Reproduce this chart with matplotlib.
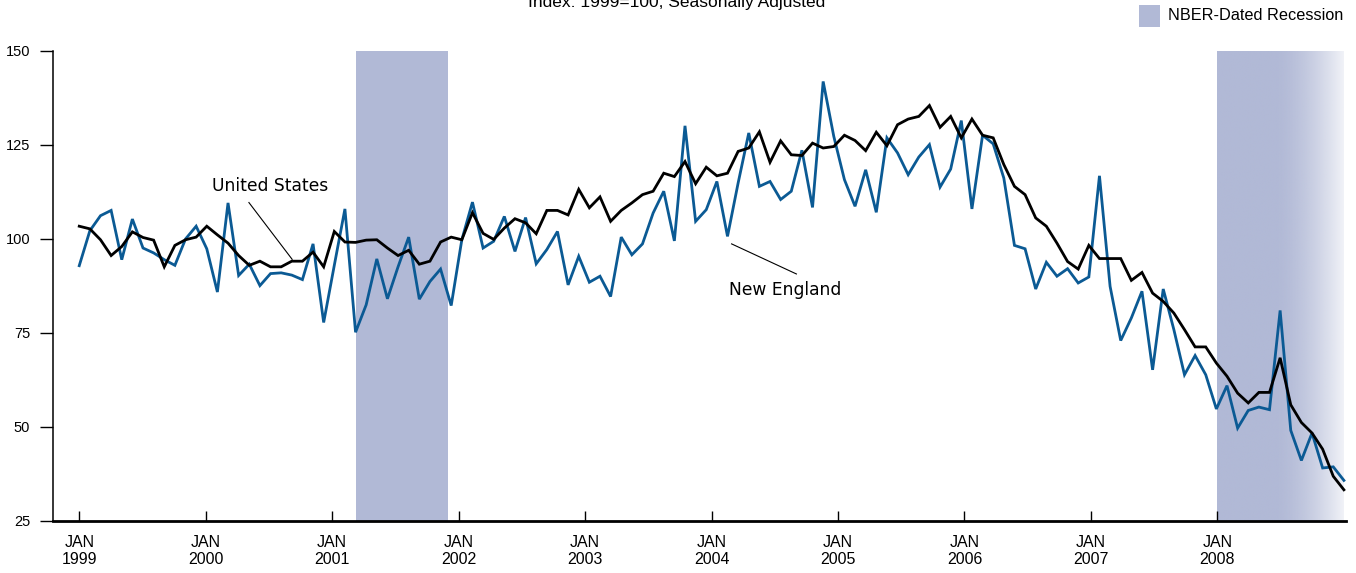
import numpy as np
import matplotlib
matplotlib.use("Agg")
import matplotlib.pyplot as plt

# monthly index, Jan 1999 .. Dec 2008 (1999 = 100, seasonally adjusted)
us = [103.4, 102.7, 99.8, 95.6, 98.0, 101.9, 100.4, 99.7, 92.6, 98.3,
      99.8, 100.5, 103.4, 101.1, 98.9, 95.6, 93.0, 94.1, 92.6, 92.6,
      94.1, 94.1, 96.5, 92.6, 102.0, 99.2, 99.1, 99.7, 99.8, 97.6,
      95.6, 97.0, 93.3, 94.1, 99.2, 100.5, 99.8, 107.0, 101.5, 99.9,
      102.9, 105.4, 104.3, 101.4, 107.6, 107.6, 106.4, 113.2, 108.3, 111.2,
      104.7, 107.6, 109.6, 111.8, 112.7, 117.5, 116.6, 120.6, 114.7, 119.1,
      116.8, 117.5, 123.3, 124.2, 128.5, 120.4, 126.1, 122.4, 122.2, 125.5,
      124.2, 124.6, 127.6, 126.2, 123.5, 128.4, 124.8, 130.4, 131.9, 132.6,
      135.5, 129.7, 132.6, 126.9, 131.9, 127.6, 126.9, 119.8, 114.0, 111.8,
      105.6, 103.4, 98.9, 94.0, 92.0, 98.3, 94.8, 94.8, 94.8, 89.0,
      91.1, 85.6, 83.4, 80.3, 75.9, 71.3, 71.3, 67.0, 63.5, 59.0,
      56.4, 59.2, 59.2, 68.4, 55.9, 51.2, 48.4, 44.1, 36.9, 33.3]

new_england = [92.9, 102.2, 106.2, 107.6, 94.5, 105.3, 97.6, 96.3, 94.5, 93.0,
               100.0, 103.4, 97.4, 85.9, 109.6, 90.3, 93.3, 87.6, 90.8, 91.0,
               90.4, 89.2, 98.7, 77.8, 93.0, 108.0, 75.2, 82.5, 94.7, 84.1,
               92.6, 100.5, 84.0, 88.7, 92.0, 82.3, 99.8, 109.8, 97.6, 99.4,
               106.0, 96.7, 105.7, 93.4, 97.2, 102.0, 87.8, 95.4, 88.5, 90.1,
               84.7, 100.5, 95.8, 98.7, 106.9, 112.7, 99.5, 130.1, 104.7, 107.8,
               115.3, 100.7, 114.9, 128.2, 114.0, 115.3, 110.5, 112.7, 123.6, 108.4,
               141.9, 127.3, 115.8, 108.7, 118.4, 107.1, 126.9, 122.9, 117.1, 121.8,
               125.1, 113.8, 118.6, 131.5, 108.0, 127.6, 125.3, 116.2, 98.3, 97.4,
               86.7, 93.8, 90.1, 92.1, 88.3, 89.9, 116.8, 87.4, 73.0, 79.0,
               86.1, 65.2, 86.7, 75.9, 63.9, 69.0, 63.9, 54.8, 61.0, 49.7,
               54.4, 55.3, 54.6, 81.0, 49.1, 41.1, 48.4, 39.1, 39.4, 35.8]

years = list(range(1999, 2009))
y_ticks = [25, 50, 75, 100, 125, 150]

# recessions in months since Jan 1999
recession_2001 = (26.25, 35.0)
recession_2008 = (108.0, 120.0)

BLUE = "#0b5a94"
SHADE = (177 / 255, 185 / 255, 214 / 255)

fig = plt.figure(figsize=(13.56, 5.73), dpi=100)
ax = fig.add_axes([53 / 1356, 1 - 521 / 573, (1346 - 53) / 1356, (521 - 51) / 573])

# the source spreads 120 months over 10 year-widths
x = np.linspace(0, 120, len(us))

ax.axvspan(*recession_2001, color=SHADE, lw=0, zorder=0)

# second recession fades out toward the right edge
grad_x = np.linspace(recession_2008[0], recession_2008[1], 300)
t = np.clip((grad_x - 113.5) / 6.5, 0, 1)
alpha = 1 - 0.82 * t ** 1.6
img = np.zeros((2, len(grad_x), 4))
img[..., 0], img[..., 1], img[..., 2] = SHADE
img[..., 3] = alpha
ax.imshow(img, extent=(recession_2008[0], recession_2008[1], 25, 150),
          aspect="auto", zorder=0, interpolation="bilinear")

ax.plot(x, new_england, color=BLUE, lw=2.0, zorder=2, solid_joinstyle="miter")
ax.plot(x, us, color="black", lw=2.0, zorder=3, solid_joinstyle="miter")

ax.set_xlim(-2.49, 120.2)
ax.set_ylim(25, 150)

ax.set_xticks([12 * k for k in range(len(years))])
ax.set_xticklabels(["JAN\n%d" % yr for yr in years], family="Liberation Sans",
                   fontsize=11.5, linespacing=1.2)
ax.tick_params(axis="x", direction="in", length=7, width=1, pad=10, colors="black")
ax.set_yticks(y_ticks)
ax.set_yticklabels([str(v) for v in y_ticks], family="Liberation Sans", fontsize=10.5)
ax.tick_params(axis="y", direction="out", length=9.5, width=1, pad=7)

for s in ["top", "right"]:
    ax.spines[s].set_visible(False)
ax.spines["left"].set_linewidth(1.1)
ax.spines["bottom"].set_linewidth(2.0)

# series labels with leader lines
ax.text(12.6, 114.2, "United States", fontsize=12.3, va="center", ha="left",
        family="DejaVu Sans")
ax.plot([16.1, 20.2], [109.7, 94.6], color="black", lw=0.8, zorder=4)
ax.text(61.7, 86.5, "New England", fontsize=12.3, va="center", ha="left",
        family="DejaVu Sans")
ax.plot([61.9, 68.05], [98.7, 90.7], color="black", lw=0.8, zorder=4)

fig.text(677 / 1356, 1 - 7 / 573, "Index: 1999=100, Seasonally Adjusted",
         ha="center", va="baseline", fontsize=12.5, family="Liberation Sans")

# legend key
fig.patches.append(plt.Rectangle((1139 / 1356, 1 - 27 / 573), 21 / 1356, 22 / 573,
                                 transform=fig.transFigure, color=SHADE, lw=0))
fig.text(1168 / 1356, 1 - 15 / 573, "NBER-Dated Recession", ha="left", va="center",
         fontsize=11.7, family="Liberation Sans")

fig.savefig("out.png", dpi=100)
